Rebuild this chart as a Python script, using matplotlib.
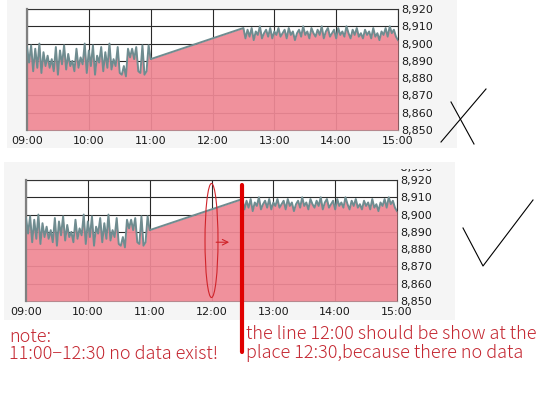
import numpy as np
import matplotlib.pyplot as plt
from matplotlib.patches import Rectangle, Ellipse
from matplotlib.ticker import FuncFormatter
from matplotlib.transforms import Bbox

# dados (hora inicial, passo de 2 minutos)
inicio1 = 9.0
inicio2 = 12.5
passo_min = 2

valores1 = [8898, 8889, 8899, 8884, 8897, 8886, 8900, 8883, 8895, 8887,
            8893, 8886, 8891, 8884, 8898, 8882, 8896, 8888, 8899, 8885,
            8894, 8887, 8890, 8884, 8897, 8886, 8892, 8888, 8900, 8883,
            8896, 8887, 8899, 8882, 8893, 8889, 8898, 8884, 8895, 8886,
            8900, 8885, 8891, 8887, 8898, 8883, 8882, 8887, 8881, 8897,
            8892, 8897, 8891, 8898, 8884, 8883, 8899, 8882, 8884, 8899,
            8891]

valores2 = [8909, 8903, 8908, 8904, 8909, 8902, 8907, 8905, 8910, 8903,
            8906, 8908, 8904, 8909, 8903, 8907, 8905, 8909, 8904, 8906,
            8908, 8903, 8909, 8905, 8907, 8902, 8906, 8908, 8904, 8910,
            8905, 8907, 8903, 8909, 8906, 8904, 8908, 8905, 8910, 8903,
            8907, 8909, 8904, 8906, 8908, 8903, 8909, 8905, 8907, 8904,
            8910, 8906, 8903, 8908, 8905, 8909, 8904, 8906, 8903, 8908,
            8905, 8907, 8903, 8909, 8904, 8906, 8902, 8907, 8905, 8909,
            8904, 8910, 8906, 8908, 8904, 8902]

horas = [9, 10, 11, 12, 13, 14, 15]
niveis = [8850, 8860, 8870, 8880, 8890, 8900, 8910, 8920]

x1 = inicio1 + np.arange(len(valores1)) * passo_min / 60
x2 = inicio2 + np.arange(len(valores2)) * passo_min / 60
xs = np.concatenate([x1, x2])
ys = np.concatenate([valores1, valores2])

rosa = '#ef8995'
linha = '#6f8c90'
vermelho = '#c42630'

W, H = 550, 400
fig = plt.figure(figsize=(5.5, 4), dpi=100)
fig.patch.set_facecolor('white')


def px(l, t, r, b):
    return [l / W, 1 - b / H, (r - l) / W, (b - t) / H]


# fundo cinza dos paineis
fundo = fig.add_axes([0, 0, 1, 1], zorder=-1)
fundo.set_xlim(0, W)
fundo.set_ylim(H, 0)
fundo.axis('off')
fundo.add_patch(Rectangle((7, 0), 450, 148, color='#f5f5f5', lw=0))
fundo.add_patch(Rectangle((4, 162), 451, 158, color='#f5f5f5', lw=0))


def grafico(pos):
    ax = fig.add_axes(pos)
    ax.set_facecolor('white')
    ax.fill_between(xs, ys, niveis[0], color=rosa, alpha=0.93, lw=0, zorder=2)
    ax.plot(xs, ys, color=linha, lw=1.4, zorder=3)
    ax.set_xlim(horas[0], horas[-1])
    ax.set_ylim(niveis[0], niveis[-1])
    ax.set_xticks(horas)
    ax.set_yticks(niveis)
    ax.xaxis.set_major_formatter(FuncFormatter(lambda v, p: '%02d:00' % v))
    ax.yaxis.set_major_formatter(FuncFormatter(lambda v, p: '{:,.0f}'.format(v)))
    ax.yaxis.tick_right()
    ax.tick_params(length=0, labelsize=8, labelcolor='#1a1a1a')
    ax.tick_params(axis='x', pad=4)
    ax.tick_params(axis='y', pad=2)
    ax.grid(True, color='#2a2a2a', lw=0.8, zorder=1)
    ax.set_axisbelow(True)
    for lado in ['top', 'right', 'bottom']:
        ax.spines[lado].set_color('#333333')
        ax.spines[lado].set_linewidth(0.8)
        ax.spines[lado].set_zorder(1)
    ax.spines['bottom'].set_color('#888888')
    ax.spines['left'].set_color('#808080')
    ax.spines['left'].set_linewidth(1.6)
    return ax


ax1 = grafico(px(27, 9, 398, 130))
ax2 = grafico(px(26, 180, 397, 301))

# rotulo 8,930 cortado no grafico de baixo
t = ax2.text(1.0, 8927, ' 8,930', transform=ax2.get_yaxis_transform(),
             fontsize=8, va='center', ha='left', color='#1a1a1a')
t.set_clip_box(Bbox.from_extents(390, H - 173, 440, H - 169))
t.set_clip_on(True)

# anotacoes no grafico de baixo
ax2.add_patch(Ellipse((12.0, 8885), 0.21, 66, fill=False, ec='#d0242a',
                      lw=0.8, clip_on=False, zorder=5))
ax2.annotate('', xy=(12.33, 8884), xytext=(12.03, 8884),
             arrowprops=dict(arrowstyle='->', color='#d0242a', lw=0.8),
             annotation_clip=False, zorder=5)
ax2.plot([12.5, 12.5], [0.96, -0.42], transform=ax2.get_xaxis_transform(),
         color='#e00000', lw=3, clip_on=False, zorder=6,
         solid_capstyle='round')

# sobreposicao em pixels: marcas e textos
topo = fig.add_axes([0, 0, 1, 1], zorder=10)
topo.set_xlim(0, W)
topo.set_ylim(H, 0)
topo.axis('off')

topo.plot([451, 474], [102, 144], color='black', lw=0.8)
topo.plot([441, 486], [142, 89], color='black', lw=0.8)
topo.plot([463, 483, 533], [228, 266, 200], color='black', lw=0.8)

fonte = dict(fontsize=13, color=vermelho, va='center', ha='left',
             family=['Noto Sans CJK JP', 'DejaVu Sans'], fontweight='light')
topo.text(9, 337, 'note:', **fonte)
topo.text(9, 354, '11:00\u221212:30 no data exist!', **fonte)
topo.text(246, 334, 'the line 12:00 should be show at the', **fonte)
topo.text(246, 353, 'place 12:30,because there no data', **fonte)

plt.savefig('out.png', dpi=100)
